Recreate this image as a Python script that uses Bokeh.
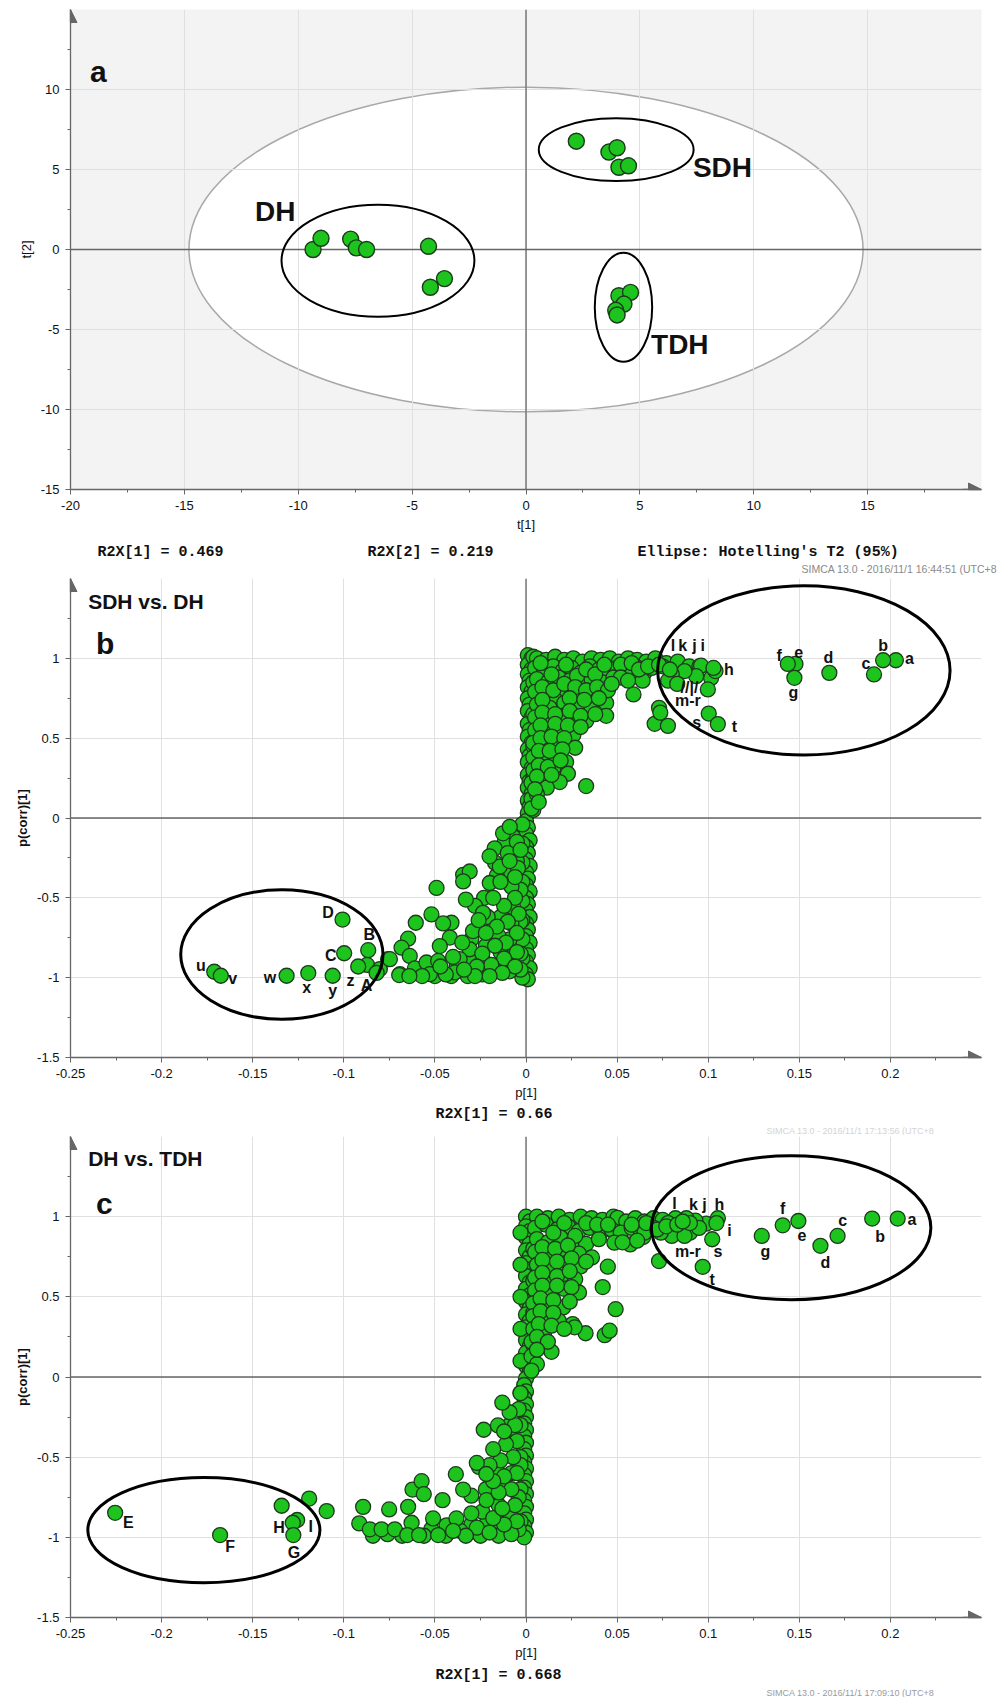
from bokeh.plotting import figure
from bokeh.models import Range1d, FixedTicker, CustomJSTickFormatter, Span, Label, Arrow, NormalHead, Title
from bokeh.layouts import column
from bokeh.embed import file_html
from bokeh.resources import INLINE
from bokeh.core.properties import value

# ---------------- panel a : scores ----------------
dh_t1 = [-9.35, -9.0, -7.7, -7.45, -7.0, -4.28, -4.2, -3.58]
dh_t2 = [0.0, 0.7, 0.65, 0.1, 0.0, 0.2, -2.36, -1.82]
sdh_t1 = [2.21, 3.64, 4.0, 4.08, 4.5]
sdh_t2 = [6.77, 6.09, 6.36, 5.14, 5.23]
tdh_t1 = [4.08, 4.59, 4.3, 3.94, 4.0]
tdh_t2 = [-2.89, -2.68, -3.41, -3.8, -4.09]
group_names = ["DH", "SDH", "TDH"]
group_cx = [-6.5, 3.96, 4.28]
group_cy = [-0.7, 6.24, -3.61]
group_w = [8.47, 6.8, 2.52]
group_h = [7.0, 3.93, 6.82]
group_lx = [-11.9, 7.33, 5.49]
group_ly = [2.35, 5.1, -5.95]
t2_w, t2_h = 29.6, 20.3
a_xticks = [-20, -15, -10, -5, 0, 5, 10, 15]
a_yticks = [-15, -10, -5, 0, 5, 10]

# ---------------- panel b : SDH vs. DH ----------------
b_stem = [[0.001, 1.02], [0.003, 1.0], [0.001, 0.96], [0.003, 0.93], [0.001, 0.9], [0.002, 0.86], [0.001, 0.82],
          [0.003, 0.79], [0.001, 0.75], [0.002, 0.71], [0.001, 0.67], [0.003, 0.63], [0.001, 0.59], [0.002, 0.55],
          [0.001, 0.51], [0.003, 0.47], [0.001, 0.43], [0.002, 0.39], [0.001, 0.35], [0.003, 0.31], [0.001, 0.27],
          [0.002, 0.23], [0.001, 0.19], [0.003, 0.15], [0.001, 0.11], [0.002, 0.07], [0.001, 0.03], [0.0, -0.02],
          [0.001, -0.06], [0.0, -0.1], [0.002, -0.14], [0.0, -0.18], [0.001, -0.22], [0.0, -0.26], [0.002, -0.3],
          [0.0, -0.34], [0.001, -0.38], [0.0, -0.42], [0.002, -0.46], [0.0, -0.5], [0.001, -0.54], [0.0, -0.58],
          [0.002, -0.62], [0.0, -0.66], [0.001, -0.7], [0.0, -0.74], [0.002, -0.78], [0.0, -0.82], [0.001, -0.86],
          [0.0, -0.9], [0.002, -0.94], [0.0, -0.98], [0.001, -1.01],
          [-0.002, -0.04], [-0.002, -0.16], [-0.002, -0.28], [-0.002, -0.4], [-0.002, -0.52], [-0.002, -0.64],
          [-0.002, -0.76], [-0.002, -0.88], [-0.002, -1.0], [0.004, 0.05], [0.004, 0.25], [0.004, 0.45],
          [0.004, 0.65], [0.004, 0.85], [0.004, 1.01]]
b_upper = [[0.006, 1.0], [0.011, 0.99], [0.016, 1.01], [0.021, 0.99], [0.026, 1.0], [0.031, 0.98], [0.036, 1.0],
           [0.041, 0.99], [0.046, 1.0], [0.051, 0.98], [0.056, 1.0], [0.061, 0.99], [0.066, 0.98], [0.071, 1.0],
           [0.077, 0.97], [0.005, 0.94], [0.01, 0.92], [0.015, 0.95], [0.02, 0.92], [0.025, 0.94], [0.03, 0.91],
           [0.035, 0.95], [0.04, 0.93], [0.045, 0.9], [0.05, 0.94], [0.055, 0.92], [0.06, 0.95], [0.065, 0.91],
           [0.069, 0.94], [0.006, 0.87], [0.012, 0.85], [0.018, 0.88], [0.024, 0.86], [0.03, 0.84], [0.036, 0.87],
           [0.042, 0.85], [0.048, 0.88], [0.005, 0.79], [0.012, 0.77], [0.02, 0.8], [0.028, 0.78], [0.036, 0.76],
           [0.059, 0.774], [0.016, 0.74], [0.006, 0.71], [0.013, 0.69], [0.021, 0.72], [0.03, 0.7], [0.044, 0.72],
           [0.036, 0.68], [0.005, 0.63], [0.012, 0.61], [0.02, 0.64], [0.033, 0.608], [0.044, 0.64], [0.026, 0.6],
           [0.005, 0.55], [0.012, 0.53], [0.019, 0.56], [0.026, 0.52], [0.004, 0.47], [0.01, 0.45], [0.017, 0.48],
           [0.027, 0.44], [0.004, 0.38], [0.01, 0.36], [0.016, 0.39], [0.022, 0.35], [0.004, 0.3], [0.009, 0.28],
           [0.015, 0.31], [0.023, 0.277], [0.003, 0.22], [0.008, 0.24], [0.0185, 0.225], [0.033, 0.2],
           [0.0114, 0.19], [0.003, 0.12], [0.006, 0.15], [0.003, 0.06],
           [0.073, 0.69], [0.0706, 0.59], [0.0779, 0.577], [0.0737, 0.66], [0.0833, 0.98], [0.0896, 0.95],
           [0.0952, 0.95], [0.1016, 0.877], [0.0998, 0.805], [0.104, 0.92], [0.0961, 0.954], [0.1029, 0.94],
           [0.0934, 0.888], [0.087, 0.92], [0.08, 0.9], [0.078, 0.86], [0.083, 0.84], [0.075, 0.95],
           [0.1003, 0.654], [0.1053, 0.588], [0.058, 0.9], [0.064, 0.86]]
b_fill = [[0.008, 0.97], [0.014, 0.9], [0.022, 0.96], [0.028, 0.89], [0.033, 0.93], [0.038, 0.9], [0.043, 0.96],
          [0.009, 0.82], [0.015, 0.8], [0.021, 0.84], [0.027, 0.82], [0.033, 0.8], [0.039, 0.82], [0.045, 0.8],
          [0.009, 0.74], [0.024, 0.75], [0.032, 0.74], [0.04, 0.75], [0.009, 0.66], [0.016, 0.65], [0.024, 0.67],
          [0.03, 0.64], [0.038, 0.65], [0.008, 0.58], [0.016, 0.59], [0.023, 0.58], [0.03, 0.57], [0.008, 0.5],
          [0.014, 0.51], [0.021, 0.5], [0.007, 0.42], [0.013, 0.42], [0.02, 0.43], [0.007, 0.33], [0.012, 0.32],
          [0.019, 0.36], [0.006, 0.26], [0.014, 0.27], [0.005, 0.18], [0.007, 0.1], [0.052, 0.96], [0.058, 0.97],
          [0.062, 0.93], [0.067, 0.95], [0.073, 0.96], [0.079, 0.93], [0.052, 0.88], [0.056, 0.86], [0.047, 0.84],
          [-0.003, -0.45], [-0.003, -0.65], [-0.003, -0.85], [-0.003, -0.95], [-0.007, -0.56], [-0.008, -0.66],
          [-0.009, -0.76], [-0.008, -0.86], [-0.009, -0.96], [-0.014, -0.62], [-0.015, -0.74], [-0.014, -0.84],
          [-0.016, -0.94], [-0.021, -0.62], [-0.022, -0.8], [-0.023, -0.9], [-0.024, -0.98], [-0.03, -0.76],
          [-0.031, -0.88], [-0.032, -0.99], [-0.038, -0.92], [-0.041, -0.99], [-0.05, -0.99], [-0.005, -0.27],
          [-0.011, -0.33], [-0.016, -0.36], [-0.007, -0.12], [-0.012, -0.16], [-0.017, -0.28], [-0.023, -0.5],
          [-0.028, -0.55]]
b_lower = [[-0.0491, -0.438], [-0.0519, -0.604], [-0.0605, -0.656], [-0.0647, -0.756], [-0.0683, -0.812],
           [-0.0638, -0.864], [-0.061, -0.942], [-0.0692, -0.978], [-0.0757, -0.884], [-0.0345, -0.356],
           [-0.0309, -0.335], [-0.0345, -0.397], [-0.033, -0.511], [-0.0409, -0.656], [-0.0455, -0.66],
           [-0.0418, -0.749], [-0.0473, -0.802], [-0.0546, -0.905], [-0.0482, -0.895], [-0.0528, -0.978],
           [-0.0172, -0.19], [-0.0199, -0.407], [-0.0236, -0.594], [-0.0291, -0.708], [-0.0309, -0.822],
           [-0.0364, -0.884], [-0.0391, -0.967], [-0.0126, -0.096], [-0.0089, -0.055], [-0.0044, -0.314],
           [-0.0144, -0.304], [-0.008, -0.43], [-0.005, -0.15], [-0.01, -0.22], [-0.006, -0.5], [-0.012, -0.55],
           [-0.018, -0.5], [-0.004, -0.6], [-0.01, -0.65], [-0.016, -0.68], [-0.022, -0.72], [-0.005, -0.72],
           [-0.011, -0.78], [-0.017, -0.8], [-0.024, -0.85], [-0.005, -0.84], [-0.012, -0.88], [-0.019, -0.92],
           [-0.027, -0.93], [-0.006, -0.93], [-0.013, -0.97], [-0.02, -0.99], [-0.028, -0.99], [-0.034, -0.95],
           [-0.044, -0.98], [-0.057, -0.99], [-0.047, -0.93], [-0.04, -0.87], [-0.035, -0.78], [-0.026, -0.64],
           [-0.014, -0.4], [-0.006, -0.37], [-0.009, -0.27], [-0.003, -0.2], [-0.02, -0.24], [-0.0872, -0.92],
           [-0.0921, -0.93], [-0.0802, -0.946], [-0.0696, -0.984], [-0.0747, -0.884], [-0.064, -0.99],
           [-0.082, -0.97]]
b_named_p = [0.203, 0.196, 0.191, 0.1665, 0.1479, 0.1437, 0.1473, -0.1711, -0.1675, -0.1314, -0.1195, -0.1061,
             -0.1007, -0.0998, -0.0866]
b_named_corr = [0.988, 0.988, 0.899, 0.909, 0.965, 0.965, 0.878, -0.963, -0.988, -0.988, -0.971, -0.988,
                -0.636, -0.847, -0.828]
b_lbl_text = ["a", "b", "c", "d", "e", "f", "g", "h", "l", "k", "j", "i", "m-r", "s", "t", "u", "v", "w", "x",
              "y", "z", "A", "B", "C", "D", "//|/"]
b_lbl_p = [0.2104, 0.196, 0.1866, 0.166, 0.1497, 0.139, 0.1468, 0.1113, 0.0806, 0.086, 0.0925, 0.097, 0.0888,
           0.0937, 0.1144, -0.1785, -0.161, -0.1405, -0.1204, -0.1061, -0.0963, -0.0875, -0.086, -0.1072,
           -0.1086, 0.0897]
b_lbl_corr = [1.0, 1.08, 0.97, 1.006, 1.04, 1.02, 0.784, 0.93, 1.08, 1.08, 1.08, 1.08, 0.733, 0.598, 0.571,
              -0.926, -1.004, -0.998, -1.06, -1.08, -1.02, -1.046, -0.73, -0.86, -0.594, 0.815]
b_ell = [[0.1525, 0.924, 0.1605, 1.06], [-0.134, -0.855, 0.111, 0.81]]

# ---------------- panel c : DH vs. TDH ----------------
c_stem = [[0.0, 1.0], [0.002, 0.97], [0.0, 0.94], [0.002, 0.91], [0.0, 0.87], [0.002, 0.83], [0.0, 0.79],
          [0.002, 0.75], [0.0, 0.71], [0.002, 0.67], [0.0, 0.63], [0.002, 0.59], [0.0, 0.55], [0.002, 0.51],
          [0.0, 0.47], [0.002, 0.43], [0.0, 0.39], [0.002, 0.35], [0.0, 0.31], [0.002, 0.27], [0.0, 0.23],
          [0.002, 0.19], [0.0, 0.15], [0.002, 0.11], [0.0, 0.07], [0.002, 0.03], [0.0, -0.01], [-0.001, -0.05],
          [0.0, -0.09], [-0.001, -0.13], [0.0, -0.17], [-0.001, -0.21], [0.0, -0.25], [-0.001, -0.29],
          [0.0, -0.33], [-0.001, -0.37], [0.0, -0.41], [-0.001, -0.45], [0.0, -0.49], [-0.001, -0.53],
          [0.0, -0.57], [-0.001, -0.61], [0.0, -0.65], [-0.001, -0.69], [0.0, -0.73], [-0.001, -0.77],
          [0.0, -0.81], [-0.001, -0.85], [0.0, -0.89], [-0.001, -0.93], [0.0, -0.97], [-0.001, -1.0],
          [-0.003, 0.9], [-0.003, 0.7], [-0.003, 0.5], [-0.003, 0.3], [-0.003, 0.1], [-0.003, -0.1],
          [-0.003, -0.3], [-0.003, -0.5], [-0.003, -0.7], [-0.003, -0.9], [0.004, 0.8], [0.004, 0.6],
          [0.004, 0.4], [0.004, 0.2]]
c_upper = [[0.006, 1.0], [0.012, 0.99], [0.018, 1.0], [0.024, 0.98], [0.03, 1.0], [0.036, 0.99], [0.042, 0.98],
           [0.048, 1.0], [0.0502, 0.993], [0.055, 0.97], [0.06, 0.99], [0.065, 0.97], [0.07, 0.99], [0.075, 0.98],
           [0.005, 0.93], [0.011, 0.95], [0.017, 0.92], [0.023, 0.94], [0.029, 0.91], [0.035, 0.93], [0.041, 0.9],
           [0.047, 0.92], [0.052, 0.9], [0.058, 0.93], [0.063, 0.91], [0.068, 0.94], [0.006, 0.86], [0.012, 0.84],
           [0.019, 0.87], [0.026, 0.85], [0.033, 0.83], [0.0485, 0.838], [0.0572, 0.827], [0.0643, 0.873],
           [0.04, 0.86], [0.005, 0.78], [0.013, 0.76], [0.021, 0.79], [0.029, 0.77], [0.0362, 0.746],
           [0.073, 0.723], [0.006, 0.7], [0.014, 0.68], [0.022, 0.71], [0.03, 0.69], [0.0449, 0.688],
           [0.005, 0.62], [0.012, 0.6], [0.0204, 0.642], [0.027, 0.61], [0.0421, 0.561], [0.005, 0.54],
           [0.013, 0.52], [0.0291, 0.527], [0.021, 0.55], [0.004, 0.46], [0.011, 0.44], [0.0204, 0.434],
           [0.0492, 0.423], [0.004, 0.38], [0.01, 0.36], [0.0256, 0.33], [0.018, 0.35], [0.004, 0.3], [0.01, 0.28],
           [0.0327, 0.273], [0.0432, 0.261], [0.0459, 0.289], [0.0267, 0.31], [0.003, 0.22], [0.008, 0.2],
           [0.014, 0.157], [0.003, 0.13], [0.006, 0.08], [0.003, 0.04],
           [0.1053, 0.99], [0.0989, 0.956], [0.1045, 0.96], [0.093, 0.975], [0.088, 0.99], [0.082, 0.99],
           [0.078, 0.96], [0.085, 0.93], [0.09, 0.9], [0.08, 0.88], [0.074, 0.9], [0.095, 0.93], [0.07, 0.93],
           [0.065, 0.9], [0.087, 0.88], [0.1022, 0.859], [0.097, 0.687]]
c_fill = [[0.009, 0.97], [0.015, 0.9], [0.021, 0.96], [0.027, 0.88], [0.033, 0.96], [0.039, 0.95], [0.045, 0.95],
          [0.009, 0.81], [0.016, 0.8], [0.023, 0.82], [0.009, 0.73], [0.017, 0.72], [0.025, 0.74], [0.033, 0.72],
          [0.009, 0.65], [0.017, 0.63], [0.024, 0.66], [0.009, 0.57], [0.017, 0.57], [0.025, 0.56], [0.008, 0.49],
          [0.015, 0.48], [0.024, 0.47], [0.008, 0.41], [0.015, 0.4], [0.007, 0.33], [0.014, 0.32], [0.021, 0.3],
          [0.006, 0.25], [0.012, 0.22], [0.006, 0.17], [0.053, 0.84], [0.061, 0.85], [0.058, 0.95], [0.066, 0.96],
          [0.072, 0.92], [0.077, 0.94], [0.083, 0.95], [0.09, 0.96], [0.086, 0.97],
          [-0.003, -0.55], [-0.004, -0.75], [-0.004, -0.95], [-0.008, -0.6], [-0.009, -0.85], [-0.01, -0.95],
          [-0.014, -0.68], [-0.015, -0.8], [-0.016, -0.9], [-0.022, -0.92], [-0.024, -0.84], [-0.025, -0.99],
          [-0.03, -0.92], [-0.036, -0.96], [-0.044, -0.99], [-0.052, -0.95], [-0.056, -0.99], [-0.068, -0.99],
          [-0.076, -0.98], [-0.084, -0.99], [-0.008, -0.38], [-0.009, -0.3], [-0.016, -0.58], [-0.022, -0.7],
          [-0.03, -0.74]]
c_lower = [[-0.0894, -0.81], [-0.0915, -0.913], [-0.0857, -0.95], [-0.0793, -0.95], [-0.0751, -0.826],
           [-0.072, -0.95], [-0.0647, -0.81], [-0.0628, -0.909], [-0.0652, -0.986], [-0.0587, -0.986],
           [-0.0623, -0.702], [-0.0573, -0.65], [-0.0561, -0.731], [-0.051, -0.882], [-0.0458, -0.768],
           [-0.0436, -0.925], [-0.0482, -0.986], [-0.0385, -0.606], [-0.0345, -0.702], [-0.0258, -0.561],
           [-0.0232, -0.329], [-0.0154, -0.302], [-0.0382, -0.882], [-0.027, -0.94], [-0.0217, -0.768],
           [-0.015, -0.99], [-0.02, -0.97], [-0.033, -0.99], [-0.04, -0.96], [-0.008, -0.98], [-0.005, -0.9],
           [-0.012, -0.92], [-0.018, -0.88], [-0.03, -0.85], [-0.006, -0.8], [-0.013, -0.82], [-0.008, -0.7],
           [-0.015, -0.72], [-0.005, -0.6], [-0.012, -0.62], [-0.018, -0.65], [-0.007, -0.5], [-0.014, -0.52],
           [-0.02, -0.55], [-0.005, -0.4], [-0.011, -0.42], [-0.018, -0.45], [-0.006, -0.3], [-0.012, -0.34],
           [-0.004, -0.2], [-0.009, -0.22], [-0.013, -0.16], [-0.003, -0.1], [-0.027, -0.536], [-0.0218, -0.605]]
c_named_p = [0.204, 0.19, 0.171, 0.1616, 0.1495, 0.1409, 0.1294, -0.2255, -0.1679, -0.1341, -0.119, -0.1094,
             -0.1256, -0.128, -0.1277]
c_named_corr = [0.988, 0.988, 0.88, 0.818, 0.973, 0.946, 0.88, -0.847, -0.986, -0.803, -0.758, -0.836, -0.892,
                -0.909, -0.986]
c_lbl_text = ["a", "b", "c", "d", "e", "f", "g", "h", "j", "k", "l", "i", "m-r", "s", "t", "E", "F", "H", "I", "G"]
c_lbl_p = [0.2118, 0.1943, 0.1738, 0.1643, 0.1515, 0.1409, 0.1314, 0.1062, 0.098, 0.0919, 0.0815, 0.1117, 0.0888,
           0.1053, 0.1022, -0.2182, -0.1624, -0.1356, -0.1182, -0.1274]
c_lbl_corr = [0.984, 0.874, 0.978, 0.714, 0.884, 1.05, 0.782, 1.077, 1.073, 1.073, 1.083, 0.911, 0.78, 0.78, 0.605,
              -0.909, -1.058, -0.938, -0.934, -1.096]
c_ell = [[0.1455, 0.931, 0.1534, 0.898], [-0.1768, -0.955, 0.1274, 0.656]]

bc_xticks = [-0.25, -0.2, -0.15, -0.1, -0.05, 0, 0.05, 0.1, 0.15, 0.2]
bc_yticks = [-1.5, -1, -0.5, 0, 0.5, 1]

FILL = "#1ec41e"
EDGE = "#1c3a1c"
BOLDF = "Liberation Sans, sans-serif"
SANS = "Liberation Sans, sans-serif"
MONO = "Liberation Mono, monospace"
NB = "\u00a0"


def make_fig(xr, yr, xt, xminor, yt, yminor, height, top, bottom, bg, ylabel, xlabel):
    p = figure(width=1000, height=height, x_range=Range1d(*xr), y_range=Range1d(*yr),
               output_backend="svg", toolbar_location=None,
               min_border_left=70, min_border_right=19, min_border_top=top, min_border_bottom=bottom)
    p.background_fill_color = bg
    p.border_fill_color = "white"
    p.outline_line_color = None
    fmt = CustomJSTickFormatter(code="return String(tick)")
    for ax, ticks, minor in ((p.xaxis, xt, xminor), (p.yaxis, yt, yminor)):
        ax.ticker = FixedTicker(ticks=ticks, minor_ticks=minor)
        ax.formatter = fmt
        ax.axis_line_color = "#666"
        ax.axis_line_width = 1.3
        ax.major_tick_line_color = "#666"
        ax.minor_tick_line_color = "#666"
        ax.major_tick_out = 5
        ax.major_tick_in = 0
        ax.minor_tick_out = 3
        ax.minor_tick_in = 0
        ax.major_label_text_font = SANS
        ax.major_label_text_font_size = "13px"
        ax.major_label_text_color = "#111"
        ax.major_label_standoff = 6
        ax.axis_label_text_font = SANS
        ax.axis_label_text_font_size = "13px"
        ax.axis_label_text_font_style = "normal"
        ax.axis_label_text_color = "#111"
        ax.axis_label_standoff = 4
    p.xaxis.axis_label = xlabel
    p.yaxis.axis_label = ylabel
    p.xgrid.grid_line_color = "#e0e0e0"
    p.ygrid.grid_line_color = "#e0e0e0"
    p.add_layout(Span(location=0, dimension="height", line_color="#666", line_width=1.3, level="underlay"))
    p.add_layout(Span(location=0, dimension="width", line_color="#666", line_width=1.3, level="underlay"))
    dx = (xr[1] - xr[0]) * 0.02
    dy = (yr[1] - yr[0]) * 0.03
    p.add_layout(Arrow(end=NormalHead(size=13, fill_color="#666", line_color="#666"),
                       x_start=xr[1] - dx, y_start=yr[0], x_end=xr[1], y_end=yr[0],
                       line_color="#666", line_width=1.3))
    p.add_layout(Arrow(end=NormalHead(size=13, fill_color="#666", line_color="#666"),
                       x_start=xr[0], y_start=yr[1] - dy, x_end=xr[0], y_end=yr[1],
                       line_color="#666", line_width=1.3))
    return p


def txt(p, x, y, s, size, font=BOLDF, style="bold", color="#111"):
    p.add_layout(Label(x=x, y=y, text=s, text_font=font, text_font_size=size, text_font_style=style,
                       text_color=color, text_align="left", text_baseline="middle"))


def below(p, s, offset, standoff, size, font, style, color):
    p.add_layout(Title(text=s, align="left", offset=offset, standoff=standoff, text_font=font,
                       text_font_size=size, text_font_style=style, text_color=color), "below")


# ---------------- figure a ----------------
pa = make_fig((-20, 20), (-15, 15), a_xticks, [-17.5, -12.5, -7.5, -2.5, 2.5, 7.5, 12.5, 17.5],
              a_yticks, [-12.5, -7.5, -2.5, 2.5, 7.5, 12.5], 575, 9, 86, "#f3f3f3", "t[2]", "t[1]")
pa.ellipse(x=0, y=0, width=t2_w, height=t2_h, fill_color="white", line_color="#a8a8a8", line_width=1.5,
           level="image")
for xs, ys in ((dh_t1, dh_t2), (sdh_t1, sdh_t2), (tdh_t1, tdh_t2)):
    pa.scatter(xs, ys, size=16, fill_color=FILL, line_color=EDGE, line_width=1.4)
pa.ellipse(x=group_cx, y=group_cy, width=group_w, height=group_h, fill_color=None, line_color="black",
           line_width=2)
pa.text(x=group_lx, y=group_ly, text=group_names, text_font=value(BOLDF), text_font_style="bold",
        text_font_size="28px", text_color="#111", text_baseline="middle")
txt(pa, -19.14, 11.1, "a", "30px")
below(pa, "R2X[1] = 0.469" + NB * 16 + "R2X[2] = 0.219" + NB * 16 + "Ellipse: Hotelling's T2 (95%)",
      27, 14, "15px", MONO, "bold", "#111")
below(pa, "SIMCA 13.0 - 2016/11/1 16:44:51 (UTC+8", 731, -13, "10.5px", SANS, "normal", "#8a8a8a")


def splot(pts_lists, named_p, named_c, lbl_t, lbl_p, lbl_c, ells, title, letter, ty, ly, r2x, simca, scolor,
          height, top, bottom, r2x_standoff, simca_standoff):
    p = make_fig((-0.25, 0.25), (-1.5, 1.5), bc_xticks,
                 [-0.225, -0.175, -0.125, -0.075, -0.025, 0.025, 0.075, 0.125, 0.175, 0.225],
                 bc_yticks, [-1.25, -0.75, -0.25, 0.25, 0.75, 1.25], height, top, bottom, "white",
                 "p(corr)[1]", "p[1]")
    p.yaxis.axis_label_text_font_style = "bold"
    for pts in pts_lists:
        p.scatter([q[0] for q in pts], [q[1] for q in pts], size=15, fill_color=FILL, line_color=EDGE,
                  line_width=1.3)
    p.scatter(named_p, named_c, size=15, fill_color=FILL, line_color=EDGE, line_width=1.3)
    p.ellipse(x=[e[0] for e in ells], y=[e[1] for e in ells], width=[e[2] for e in ells],
              height=[e[3] for e in ells], fill_color=None, line_color="black", line_width=3)
    p.text(x=lbl_p, y=lbl_c, text=lbl_t, text_font=value(BOLDF), text_font_style="bold",
           text_font_size="16px", text_color="#111", text_align="center", text_baseline="middle")
    txt(p, -0.2403, ty, title, "21px")
    txt(p, -0.236, ly, letter, "30px")
    below(p, r2x, 365, r2x_standoff, "15px", MONO, "bold", "#111")
    below(p, simca, 696, simca_standoff, "9px", SANS, "normal", scolor)
    return p


pb = splot([b_stem, b_upper, b_fill, b_lower], b_named_p, b_named_corr, b_lbl_text, b_lbl_p, b_lbl_corr, b_ell,
           "SDH vs. DH", "b", 1.356, 1.095, "R2X[1] = 0.66", "SIMCA 13.0 - 2016/11/1 17:13:56 (UTC+8",
           "#d4d4d4", 560, 3, 75, 2, 0)
pc = splot([c_stem, c_upper, c_fill, c_lower], c_named_p, c_named_corr, c_lbl_text, c_lbl_p, c_lbl_corr, c_ell,
           "DH vs. TDH", "c", 1.361, 1.08, "R2X[1] = 0.668", "SIMCA 13.0 - 2016/11/1 17:09:10 (UTC+8",
           "#9a9a9a", 562, 1, 79, 4, 0)

layout = column(pa, pb, pc)
open("out.html", "w").write(file_html(layout, INLINE))
